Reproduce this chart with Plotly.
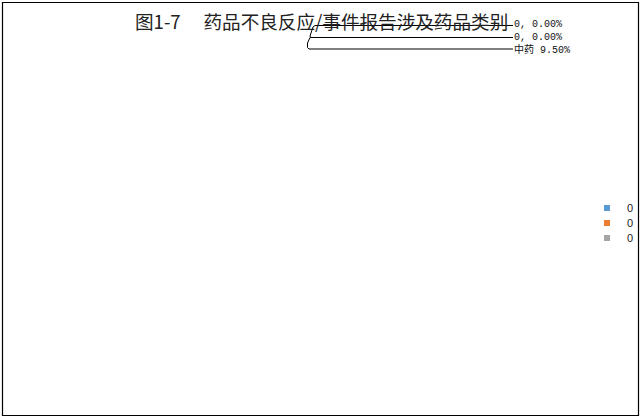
import plotly.graph_objects as go

# ---- data ----
legend_names = ["0", "0", "0"]
label_categories = ["0", "0", "中药"]
label_percents = [0.00, 0.00, 9.50]
title_text = "图1-7　 药品不良反应/事件报告涉及药品类别"

# ---- styles ----
slice_colors = ["#5B9BD5", "#ED7D31", "#A5A5A5"]
W, H = 640, 417


def px(x):
    return x / W


def py(y):
    return 1 - y / H


legend_ids = ["legend", "legend2", "legend3"]
legend_y = [208, 223, 238]

fig = go.Figure()
for name, col, lid in zip(legend_names, slice_colors, legend_ids):
    fig.add_trace(go.Scatter(x=[None], y=[None], mode="markers", name=name,
                             legend=lid,
                             marker=dict(symbol="square", size=6, color=col)))

# label annotations with leader lines
label_y = [25, 37, 49]
annotations = []
for i, (cat, pct) in enumerate(zip(label_categories, label_percents)):
    sep = ", " if i < 2 else " "
    annotations.append(dict(
        x=px(512), y=py(label_y[i]), xref="paper", yref="paper",
        text=f"{cat}{sep}{pct:.2f}%", showarrow=False,
        xanchor="left", yanchor="middle",
        font=dict(family="Liberation Mono, Noto Sans CJK SC", size=10, color="#111")))

annotations.append(dict(
    x=px(321), y=py(20), xref="paper", yref="paper", text=title_text,
    showarrow=False, xanchor="center", yanchor="middle",
    font=dict(family="Noto Sans CJK SC", size=18.6, color="#222")))


def path(points):
    s = "M %f,%f" % (px(points[0][0]), py(points[0][1]))
    for (x, y) in points[1:]:
        s += " L %f,%f" % (px(x), py(y))
    return s


leader_paths = [
    [(513, 25.5), (315, 25.5), (313, 27), (310, 36), (310.5, 37.5)],
    [(513, 37.5), (310, 37.5)],
    [(513, 49), (309, 49), (307.5, 47.5), (307.5, 43), (310, 37.5)],
]
shapes = [dict(type="path", path=path(p), xref="paper", yref="paper",
               line=dict(color="#000", width=1)) for p in leader_paths]
shapes.append(dict(type="rect", xref="paper", yref="paper",
                   x0=px(2.5), y0=py(2.5), x1=px(638.5), y1=py(415.5),
                   line=dict(color="#000", width=1.2)))

legend_style = dict(xanchor="left", yanchor="middle",
                    font=dict(family="Liberation Sans", size=11, color="#222"),
                    itemwidth=30, bgcolor="rgba(0,0,0,0)")
layout_legends = {lid: dict(x=px(587), y=py(ly), **legend_style)
                  for lid, ly in zip(legend_ids, legend_y)}

fig.update_layout(
    width=W, height=H,
    margin=dict(l=0, r=0, t=0, b=0),
    paper_bgcolor="white", plot_bgcolor="white",
    xaxis=dict(visible=False), yaxis=dict(visible=False),
    showlegend=True,
    annotations=annotations, shapes=shapes,
    **layout_legends,
)

fig.write_html("out.html", config={"displayModeBar": False},
               post_script="document.body.style.margin='0';document.body.style.padding='0';")
